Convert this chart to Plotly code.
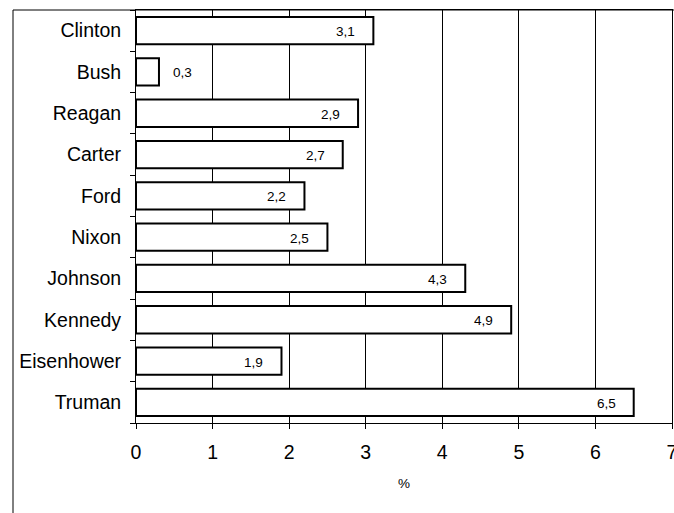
import plotly.graph_objects as go

presidents = ["Truman", "Eisenhower", "Kennedy", "Johnson", "Nixon", "Ford", "Carter", "Reagan", "Bush", "Clinton"]
values = [6.5, 1.9, 4.9, 4.3, 2.5, 2.2, 2.7, 2.9, 0.3, 3.1]
x_ticks = [0, 1, 2, 3, 4, 5, 6, 7]

labels = [f"{v:.1f}".replace(".", ",") for v in values]

FONT = "Liberation Sans, Arial"

fig = go.Figure(go.Bar(
    y=presidents, x=values, orientation="h",
    marker=dict(color="white", line=dict(color="black", width=2)),
    width=0.66, hoverinfo="skip",
))

annotations = []
for p, v, t in zip(presidents, values, labels):
    inside = v >= 0.5
    annotations.append(dict(
        x=v, y=p, xref="x", yref="y", text=t, showarrow=False,
        xanchor="right" if inside else "left",
        xshift=-16 if inside else 12, yshift=-1,
        font=dict(family=FONT, size=13.5, color="black"),
    ))

W, H = 674, 513
ml, mr, mt, mb = 136, 2, 10, 90
pw = W - ml - mr
ph = H - mt - mb

fig.update_layout(
    width=W, height=H,
    margin=dict(l=ml, r=mr, t=mt, b=mb, autoexpand=False),
    paper_bgcolor="white", plot_bgcolor="white",
    font=dict(family=FONT, size=19.5, color="black"),
    showlegend=False,
    xaxis=dict(
        range=[0, 7], tickvals=x_ticks, ticks="outside", ticklen=5, tickcolor="black",
        showgrid=True, gridcolor="black", gridwidth=1,
        showline=True, linecolor="black", linewidth=1, mirror=True,
        zeroline=False, automargin=False, ticklabeloverflow="allow",
        ticklabelstandoff=7,
        title=dict(text="%", font=dict(size=13.5), standoff=16),
        tickfont=dict(size=19.5),
    ),
    yaxis=dict(
        type="category", categoryorder="array", categoryarray=presidents,
        tickson="boundaries", ticks="outside", ticklen=5, tickcolor="black",
        showgrid=False, showline=True, linecolor="black", linewidth=1, mirror=True,
        tickfont=dict(size=19.5), automargin=False, ticklabelstandoff=10,
    ),
    annotations=annotations,
    shapes=[
        dict(type="line", xref="paper", yref="paper",
             x0=(13 - ml) / pw, x1=(13 - ml) / pw, y0=1, y1=-(mb + 5) / ph,
             line=dict(color="black", width=1)),
        dict(type="line", xref="paper", yref="paper",
             x0=(13 - ml) / pw, x1=1.05, y0=1, y1=1,
             line=dict(color="black", width=1)),
    ],
)

fig.write_html(
    "out.html",
    config={"displayModeBar": False},
    post_script="document.body.style.margin='0';document.body.style.overflow='hidden';",
)
